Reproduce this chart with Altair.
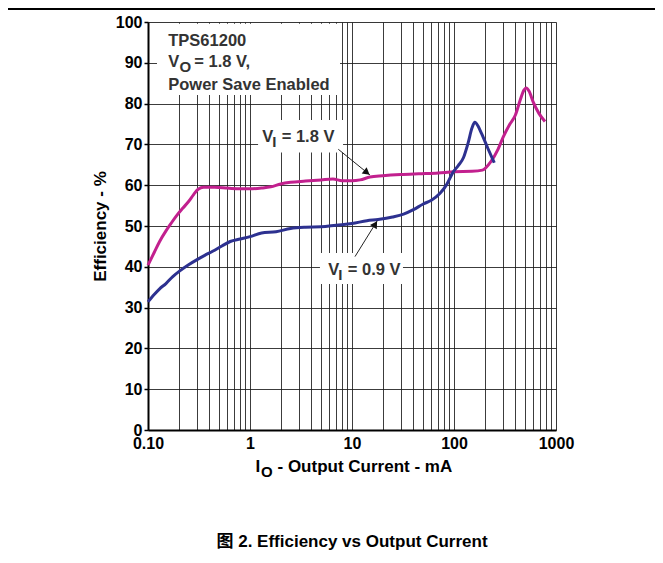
import altair as alt
import pandas as pd

FONT = "Liberation Sans, Arial, Helvetica, Noto Sans CJK SC, sans-serif"

# ---- data ----
vi18_current = [0.1, 0.115, 0.13, 0.15, 0.17, 0.19, 0.22, 0.25, 0.28, 0.31, 0.35, 0.45,
                0.6, 0.8, 1.0, 1.3, 1.6, 2.0, 2.5, 3.5, 5.0, 6.5, 8.0, 10, 12, 15, 20,
                30, 45, 70, 100, 150, 190, 230, 270, 305, 350, 400, 445, 485, 510, 545,
                600, 680, 780]
vi18_eff = [40.4, 43.5, 46.2, 48.8, 50.8, 52.5, 54.4, 56.0, 57.7, 59.0, 59.5, 59.5,
            59.3, 59.1, 59.1, 59.3, 59.6, 60.3, 60.7, 61.0, 61.3, 61.5, 61.1, 61.1, 61.3,
            62.0, 62.3, 62.6, 62.8, 63.0, 63.3, 63.4, 63.7, 65.8, 68.8, 71.9, 74.8, 77.2,
            80.8, 83.3, 83.8, 83.0, 80.3, 77.6, 75.6]

vi09_current = [0.1, 0.115, 0.13, 0.15, 0.175, 0.205, 0.25, 0.3, 0.36, 0.43, 0.53, 0.64,
                0.8, 1.0, 1.3, 1.8, 2.5, 3.5, 5.0, 7.0, 10, 14, 18, 25, 32, 40, 50, 60,
                73, 85, 98, 110, 124, 138, 150, 160, 172, 186, 215, 248]
vi09_eff = [31.4, 33.2, 34.6, 35.9, 37.6, 39.0, 40.5, 41.7, 42.8, 43.8, 45.1, 46.2,
            46.8, 47.4, 48.3, 48.6, 49.4, 49.7, 49.8, 50.2, 50.6, 51.3, 51.6, 52.2, 52.9,
            54.0, 55.4, 56.3, 58.0, 60.2, 63.2, 64.8, 66.8, 70.5, 74.0, 75.4, 74.5, 72.7,
            69.0, 65.5]

series_names = ["VI = 1.8 V", "VI = 0.9 V"]
series_colors = ["#c2208e", "#2d3190"]

x_grid_values = [0.1, 0.2, 0.3, 0.4, 0.5, 0.6, 0.7, 0.8, 0.9,
                 1, 2, 3, 4, 5, 6, 7, 8, 9,
                 10, 20, 30, 40, 50, 60, 70, 80, 90,
                 100, 200, 300, 400, 500, 600, 700, 800, 900, 1000]
y_values = [0, 10, 20, 30, 40, 50, 60, 70, 80, 90, 100]

# annotation boxes (data space)
box_x = [0.1225, 1.2, 4.85]
box_x2 = [7.63, 8.17, 31.6]
box_y = [82.1, 68.0, 35.8]
box_y2 = [99.6, 76.0, 43.4]

# arrows (data space)
arr_x = [7.34, 10.7]
arr_y = [68.8, 42.5]
arr_x2 = [15.0, 17.7]
arr_y2 = [62.5, 51.3]
head_x = [14.0, 16.9]
head_y = [63.1, 50.47]
head_angle = [38, 302]

# ---- scales / axes ----
x_scale = alt.Scale(type="log", domain=[0.1, 1000], nice=False)
y_scale = alt.Scale(domain=[0, 100], nice=False)

x_axis = alt.Axis(
    values=x_grid_values,
    labelExpr="datum.value == 0.1 ? '0.10' : (datum.value == 1 ? '1' : (datum.value == 10 ? '10' : (datum.value == 100 ? '100' : (datum.value == 1000 ? '1000' : ''))))",
    title=None, ticks=False, tickSize=0, labelPadding=5, labelFlush=False,
    labelOverlap=False, labelFont=FONT, labelFontSize=16, labelFontWeight="bold",
    labelColor="#000", grid=True, gridColor="#1a1a1a", gridWidth=1, gridOpacity=0.85,
    domainColor="#000", domainWidth=2,
)
y_axis = alt.Axis(
    values=y_values, title="Efficiency - %", titleFont=FONT, titleFontSize=17,
    titleFontWeight="bold", titleColor="#000", titlePadding=6,
    tickSize=4, tickColor="#000", tickWidth=1.5, labelPadding=2,
    labelFont=FONT, labelFontSize=16, labelFontWeight="bold", labelColor="#000",
    grid=True, gridColor="#1a1a1a", gridWidth=1, gridOpacity=0.85,
    domainColor="#000", domainWidth=2,
)


def X(f="I"):
    return alt.X(f"{f}:Q", scale=x_scale, axis=x_axis)


def Y(f="eff"):
    return alt.Y(f"{f}:Q", scale=y_scale, axis=y_axis)


curves = pd.DataFrame({
    "I": vi18_current + vi09_current,
    "eff": vi18_eff + vi09_eff,
    "series": [series_names[0]] * len(vi18_current) + [series_names[1]] * len(vi09_current),
})

boxes = pd.DataFrame({"I": box_x, "I2": box_x2, "eff": box_y, "eff2": box_y2})
arrows = pd.DataFrame({"I": arr_x, "I2": arr_x2, "eff": arr_y, "eff2": arr_y2})
heads = pd.DataFrame({"I": head_x, "eff": head_y, "angle": head_angle})

box_layer = alt.Chart(boxes).mark_rect(color="white").encode(
    x=X(), x2="I2:Q", y=Y(), y2="eff2:Q")

line_layer = alt.Chart(curves).mark_line(strokeWidth=3, interpolate="monotone").encode(
    x=X(), y=Y(),
    color=alt.Color("series:N", scale=alt.Scale(domain=series_names, range=series_colors), legend=None),
    detail="series:N",
)

arrow_layer = alt.Chart(arrows).mark_rule(color="#222", strokeWidth=1).encode(
    x=X(), x2="I2:Q", y=Y(), y2="eff2:Q")

head_layer = alt.Chart(heads).mark_point(shape="triangle-right", filled=True, size=64,
                                         color="#111", opacity=1).encode(
    x=X(), y=Y(), angle=alt.Angle("angle:Q", scale=None))


def label(x, y, text, dx=0, dy=0, size=16.5, color="#333"):
    return alt.Chart(pd.DataFrame({"I": [x], "eff": [y], "t": [text]})).mark_text(
        align="left", baseline="alphabetic", dx=dx, dy=dy, fontSize=size,
        fontWeight="bold", font=FONT, color=color).encode(x=X(), y=Y(), text="t:N")


def ptext(px, py, text, size=17, align="left", color="#000"):
    return alt.Chart(pd.DataFrame({"a": [0]})).mark_text(
        align=align, baseline="alphabetic", fontSize=size, fontWeight="bold",
        font=FONT, color=color).encode(x=alt.value(px), y=alt.value(py), text=alt.value(text))


texts = [
    label(0.158, 94.0, "TPS61200"),
    label(0.158, 89.05, "V"),
    label(0.158, 89.05, "O", dx=11.2, dy=5, size=15),
    label(0.158, 89.05, "= 1.8 V,", dx=26),
    label(0.158, 83.3, "Power Save Enabled"),
    label(1.317, 70.66, "V"),
    label(1.317, 70.66, "I", dx=10, dy=5, size=15),
    label(1.317, 70.66, "= 1.8 V", dx=19.5),
    label(5.86, 38.0, "V"),
    label(5.86, 38.0, "I", dx=10, dy=5, size=15),
    label(5.86, 38.0, "= 0.9 V", dx=19.5),
]

title_parts = [
    ptext(107.5, 450, "I"),
    ptext(113, 455, "O", size=15),
    ptext(129.5, 450, "- Output Current - mA"),
    ptext(204, 525, "图 2. Efficiency vs Output Current", align="center"),
]

top_line = alt.Chart(pd.DataFrame({"a": [0]})).mark_rule(color="#000", strokeWidth=2).encode(
    x=alt.value(-140), x2=alt.value(507), y=alt.value(-13))

chart = alt.layer(
    box_layer, line_layer, arrow_layer, head_layer, *texts, *title_parts, top_line
).properties(
    width=408, height=408,
    padding={"left": 140, "top": 14, "right": 99, "bottom": 125},
    autosize=alt.AutoSizeParams(type="none"),
).configure_view(stroke="#222", strokeWidth=1.5).configure(background="white")

chart.save("out.html", embed_options={"renderer": "svg", "actions": False})
